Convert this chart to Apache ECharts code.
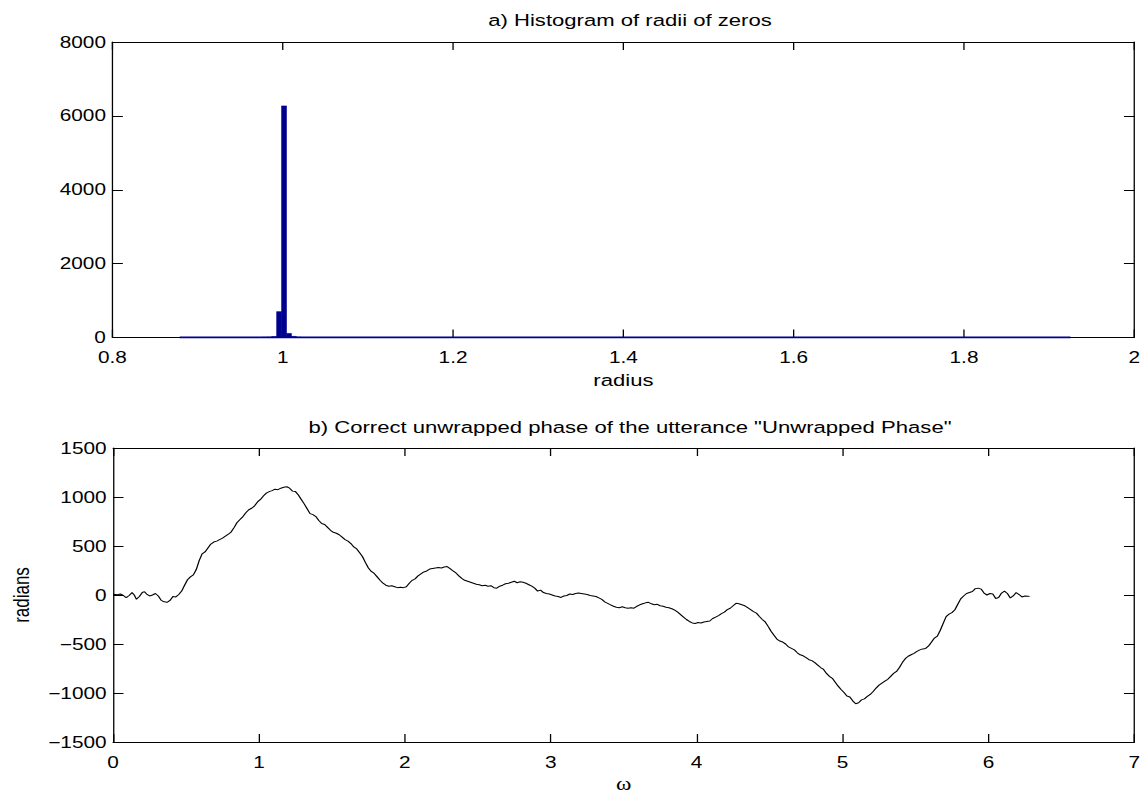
<!DOCTYPE html>
<html>
<head>
<meta charset="utf-8">
<script src="https://cdn.jsdelivr.net/npm/echarts@6/dist/echarts.min.js"></script>
<style>
html,body{margin:0;padding:0;background:#fff;width:1144px;height:794px;overflow:hidden}
/* the reference figure is horizontally stretched; reproduce that aspect */
#c{width:880px;height:794px;transform:scaleX(1.3);transform-origin:0 0}
</style>
</head>
<body>
<div id="c"></div>
<script>
// ---- Data ----
const titleA = 'a) Histogram of radii of zeros';
const titleB = 'b) Correct unwrapped phase of the utterance "Unwrapped Phase"';
// histogram bins: [left edge, right edge, count]
const histBins = [
  [0.9754, 0.9812, 5],
  [0.9812, 0.9870, 10],
  [0.9870, 0.9928, 25],
  [0.9928, 0.9986, 700],
  [0.9986, 1.0044, 6270],
  [1.0044, 1.0102, 110],
  [1.0102, 1.0160, 30],
  [1.0160, 1.0218, 8]
];
const histRange = [0.879, 1.925]; // extent of (mostly empty) bins
const radiusTicks = {min: 0.8, max: 2, interval: 0.2};
const countTicks = {min: 0, max: 8000, interval: 2000};
const omegaTicks = {min: 0, max: 7, interval: 1};
const radianTicks = {min: -1500, max: 1500, interval: 500};
// unwrapped phase: [omega, radians]
const phase = [
[0.00,8],[0.03,2],[0.05,10],[0.07,-5],[0.09,-27],[0.11,-5],[0.13,24],[0.145,0],[0.16,-44],[0.18,-15],
[0.20,25],[0.215,34],[0.23,10],[0.25,-10],[0.27,0],[0.29,15],[0.31,-10],[0.33,-55],[0.35,-70],[0.37,-75],
[0.39,-55],[0.41,-15],[0.43,-20],[0.45,5],[0.47,40],[0.49,100],[0.51,155],[0.53,185],[0.55,205],[0.57,260],
[0.59,350],[0.61,420],[0.63,440],[0.65,480],[0.67,520],[0.69,540],[0.71,550],[0.73,565],[0.75,580],[0.77,600],
[0.79,620],[0.81,645],[0.83,690],[0.85,740],[0.87,770],[0.89,800],[0.91,840],[0.93,870],[0.95,885],[0.97,910],
[0.99,950],[1.01,975],[1.03,1010],[1.05,1040],[1.07,1055],[1.09,1065],[1.11,1080],[1.13,1075],[1.15,1090],[1.17,1100],
[1.19,1105],[1.21,1090],[1.23,1060],[1.25,1055],[1.27,1020],[1.29,975],[1.31,930],[1.33,880],[1.35,830],[1.37,820],
[1.39,800],[1.41,760],[1.43,730],[1.45,720],[1.47,690],[1.49,660],[1.51,640],[1.53,630],[1.55,615],[1.57,590],
[1.59,565],[1.61,550],[1.63,525],[1.65,490],[1.67,470],[1.69,430],[1.71,390],[1.73,330],[1.75,275],[1.77,240],
[1.79,220],[1.81,185],[1.83,150],[1.85,120],[1.87,100],[1.89,90],[1.91,95],[1.93,85],[1.95,75],[1.97,80],
[1.99,75],[2.01,85],[2.03,120],[2.05,150],[2.07,165],[2.09,195],[2.11,215],[2.13,235],[2.15,245],[2.17,265],
[2.19,270],[2.21,275],[2.23,280],[2.25,275],[2.27,285],[2.29,290],[2.31,270],[2.33,245],[2.35,225],[2.37,195],
[2.39,170],[2.41,150],[2.43,140],[2.45,130],[2.47,120],[2.49,110],[2.51,105],[2.53,95],[2.55,100],[2.57,90],
[2.59,95],[2.61,75],[2.63,70],[2.65,90],[2.67,100],[2.69,115],[2.71,120],[2.73,130],[2.75,140],[2.77,125],
[2.79,135],[2.81,130],[2.83,120],[2.85,105],[2.87,90],[2.89,70],[2.91,40],[2.93,50],[2.95,25],[2.97,15],
[2.99,10],[3.01,0],[3.03,-10],[3.05,-15],[3.07,-25],[3.09,-10],[3.11,-5],[3.13,10],[3.15,5],[3.17,15],
[3.19,20],[3.21,15],[3.23,10],[3.25,5],[3.27,-5],[3.29,-10],[3.31,-15],[3.33,-30],[3.35,-45],[3.37,-70],
[3.39,-85],[3.41,-100],[3.43,-115],[3.45,-125],[3.47,-130],[3.49,-120],[3.51,-130],[3.53,-135],[3.55,-130],[3.57,-135],
[3.59,-115],[3.61,-100],[3.63,-90],[3.65,-80],[3.67,-75],[3.69,-90],[3.71,-100],[3.73,-95],[3.75,-110],[3.77,-115],
[3.79,-125],[3.81,-130],[3.83,-140],[3.85,-155],[3.87,-175],[3.89,-200],[3.91,-225],[3.93,-250],[3.95,-270],[3.97,-285],
[3.99,-290],[4.01,-280],[4.03,-285],[4.05,-275],[4.07,-270],[4.09,-265],[4.11,-240],[4.13,-225],[4.15,-210],[4.17,-190],
[4.19,-175],[4.21,-150],[4.23,-135],[4.25,-110],[4.27,-85],[4.29,-90],[4.31,-100],[4.33,-110],[4.35,-130],[4.37,-150],
[4.39,-170],[4.41,-185],[4.43,-220],[4.45,-250],[4.47,-275],[4.49,-320],[4.51,-370],[4.53,-410],[4.55,-450],[4.57,-470],
[4.59,-480],[4.61,-500],[4.63,-530],[4.65,-545],[4.67,-560],[4.69,-590],[4.71,-610],[4.73,-620],[4.75,-640],[4.77,-660],
[4.79,-670],[4.81,-690],[4.83,-715],[4.85,-740],[4.87,-760],[4.89,-800],[4.91,-830],[4.93,-850],[4.95,-890],[4.97,-930],
[4.99,-965],[5.01,-995],[5.03,-1030],[5.05,-1040],[5.07,-1080],[5.09,-1110],[5.11,-1100],[5.13,-1070],[5.15,-1060],[5.17,-1035],
[5.19,-1015],[5.21,-985],[5.23,-950],[5.25,-920],[5.27,-900],[5.29,-880],[5.31,-860],[5.33,-830],[5.35,-800],[5.37,-780],
[5.39,-740],[5.41,-690],[5.43,-650],[5.45,-625],[5.47,-610],[5.49,-595],[5.51,-575],[5.53,-560],[5.55,-550],[5.57,-545],
[5.59,-520],[5.61,-480],[5.63,-440],[5.65,-420],[5.67,-360],[5.69,-290],[5.71,-220],[5.73,-195],[5.75,-180],[5.77,-150],
[5.79,-95],[5.81,-40],[5.83,-10],[5.85,15],[5.87,25],[5.89,35],[5.91,65],[5.93,70],[5.95,60],[5.97,20],
[5.99,0],[6.01,15],[6.03,10],[6.05,-35],[6.07,-25],[6.09,20],[6.11,40],[6.13,15],[6.15,-30],[6.17,-10],
[6.19,25],[6.21,5],[6.23,-20],[6.25,-10],[6.27,-12],[6.283,-14]
];

// ---- Chart ----
const FONT = 'Liberation Sans, Arial, Helvetica, sans-serif';
const SERIF = 'Liberation Serif, Times New Roman, serif';
const BAR = '#00008f';
const chart = echarts.init(document.getElementById('c'), null, {renderer: 'svg'});
const minus = v => String(v).replace('-', '\u2212');
const tickLabel = (margin) => ({color: '#000', fontSize: 16, fontFamily: FONT, margin: margin, formatter: minus});

function axisBase(extra) {
  return Object.assign({
    type: 'value',
    axisLine: {show: true, onZero: false, lineStyle: {color: '#000', width: 1}},
    axisTick: {show: true, inside: true, length: 8, lineStyle: {color: '#000'}},
    splitLine: {show: false},
    axisLabel: tickLabel(8),
    nameTextStyle: {color: '#000', fontSize: 17, fontFamily: FONT}
  }, extra);
}
function mirror(extra) {
  const a = axisBase(extra);
  a.axisLabel = {show: false};
  return a;
}

const titleStyle = {fontSize: 17, fontWeight: 'normal', color: '#000', fontFamily: FONT};

chart.setOption({
  animation: false,
  backgroundColor: '#fff',
  title: [
    {text: titleA, left: 479.6, top: 6, textAlign: 'center', textStyle: titleStyle},
    {text: titleB, left: 479.6, top: 413, textAlign: 'center', textStyle: titleStyle}
  ],
  grid: [
    {left: 86.5, top: 42, width: 786.2, height: 295.5},
    {left: 86.5, top: 448, width: 786.2, height: 296.8}
  ],
  xAxis: [
    axisBase(Object.assign({gridIndex: 0, position: 'bottom', name: 'radius', nameLocation: 'middle', nameGap: 34,
      axisLabel: tickLabel(12)}, radiusTicks)),
    mirror(Object.assign({gridIndex: 0, position: 'top'}, radiusTicks)),
    axisBase(Object.assign({gridIndex: 1, position: 'bottom', name: 'ω', nameLocation: 'middle', nameGap: 33,
      axisLabel: tickLabel(12),
      nameTextStyle: {color: '#000', fontSize: 18, fontFamily: SERIF}}, omegaTicks)),
    mirror(Object.assign({gridIndex: 1, position: 'top'}, omegaTicks))
  ],
  yAxis: [
    axisBase(Object.assign({gridIndex: 0, position: 'left', axisLabel: tickLabel(5)}, countTicks)),
    mirror(Object.assign({gridIndex: 0, position: 'right'}, countTicks)),
    axisBase(Object.assign({gridIndex: 1, position: 'left', name: 'radians', nameLocation: 'middle', nameGap: 62, nameRotate: 90,
      axisLabel: tickLabel(5)}, radianTicks)),
    mirror(Object.assign({gridIndex: 1, position: 'right'}, radianTicks))
  ],
  series: [
    {
      type: 'custom', xAxisIndex: 0, yAxisIndex: 0, z: 3,
      data: histBins,
      renderItem: function (params, api) {
        const p0 = api.coord([api.value(0), 0]);
        const p1 = api.coord([api.value(1), api.value(2)]);
        return {type: 'rect', shape: {x: p0[0], y: p1[1], width: p1[0] - p0[0], height: p0[1] - p1[1]},
          style: {fill: BAR, stroke: BAR, lineWidth: 0.5}};
      }
    },
    {
      type: 'line', xAxisIndex: 0, yAxisIndex: 0, z: 4, symbol: 'none',
      data: [[histRange[0], 0], [histRange[1], 0]],
      lineStyle: {color: BAR, width: 2}
    },
    {
      type: 'line', xAxisIndex: 2, yAxisIndex: 2, symbol: 'none',
      data: phase,
      lineStyle: {color: '#000', width: 1}
    }
  ]
});
</script>
</body>
</html>
